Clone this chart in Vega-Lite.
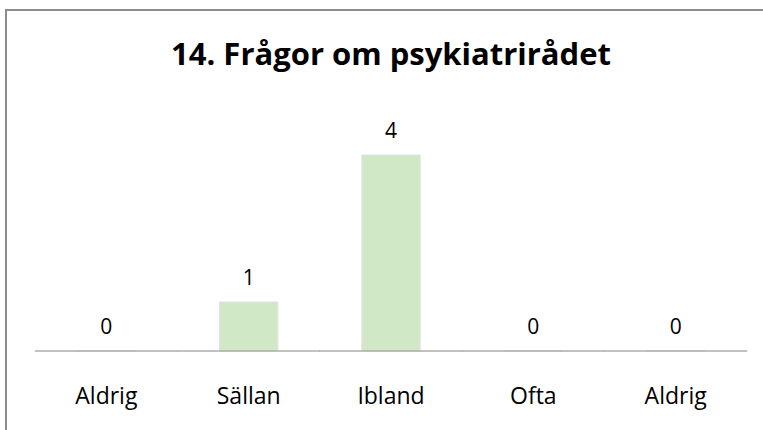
{
  "$schema": "https://vega.github.io/schema/vega-lite/v6.json",
  "width": 770,
  "height": 430,
  "autosize": {"type": "none"},
  "padding": {"left": 6, "top": 10, "right": 0, "bottom": 0},
  "background": "white",
  "config": {"view": {"stroke": "#8c8c8c", "strokeWidth": 2}, "font": "Open Sans"},
  "title": {"text": "14. Frågor om psykiatrirådet", "font": "Open Sans", "fontSize": 31, "fontWeight": "bold", "color": "#000000", "anchor": "middle", "baseline": "alphabetic", "offset": -86},
  "data": {"values": [
    {"key": "c1", "label": "Aldrig", "value": 0},
    {"key": "c2", "label": "Sällan", "value": 1},
    {"key": "c3", "label": "Ibland", "value": 4},
    {"key": "c4", "label": "Ofta", "value": 0},
    {"key": "c5", "label": "Aldrig", "value": 0}
  ]},
  "encoding": {
    "x": {
      "field": "key", "type": "nominal", "sort": null,
      "scale": {"paddingInner": 0.59, "paddingOuter": 0.5},
      "axis": {
        "orient": "bottom", "offset": -89, "domain": false, "ticks": false,
        "labelExpr": "{'c1':'Aldrig','c2':'Sällan','c3':'Ibland','c4':'Ofta','c5':'Aldrig'}[datum.value]",
        "labelFontSize": 23, "labelPadding": 34, "labelColor": "#000000", "labelAngle": 0,
        "labelFont": "Open Sans", "title": null
      }
    }
  },
  "layer": [
    {
      "mark": {"type": "bar", "fill": "#d0e8c6", "stroke": "#e2e2e2", "strokeWidth": 1},
      "encoding": {"y": {"field": "value", "type": "quantitative", "scale": {"domain": [-1.816, 6.959], "nice": false, "zero": false}, "axis": null}}
    },
    {
      "mark": {"type": "tick", "color": "#a6a6a6", "thickness": 2},
      "encoding": {"y": {"datum": 0}, "size": {"value": 143}}
    },
    {
      "mark": {"type": "text", "dy": -23, "fontSize": 21, "font": "Open Sans", "color": "#000000"},
      "encoding": {"y": {"field": "value", "type": "quantitative"}, "text": {"field": "value", "type": "quantitative"}}
    }
  ]
}
